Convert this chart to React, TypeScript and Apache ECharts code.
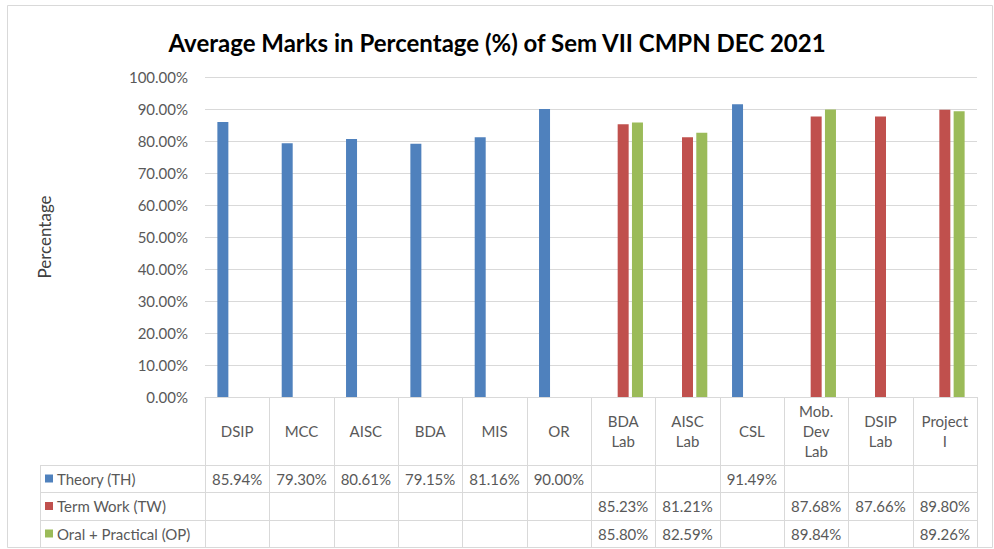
import React, { useEffect, useRef } from "react";
import * as echarts from "echarts";

const categories = ["DSIP", "MCC", "AISC", "BDA", "MIS", "OR", "BDA\nLab", "AISC\nLab", "CSL", "Mob.\nDev\nLab", "DSIP\nLab", "Project\nI"];
const seriesNames = ["Theory (TH)", "Term Work (TW)", "Oral + Practical (OP)"];
const theory = [85.94, 79.3, 80.61, 79.15, 81.16, 90.0, null, null, 91.49, null, null, null];
const termWork = [null, null, null, null, null, null, 85.23, 81.21, null, 87.68, 87.66, 89.8];
const oralPractical = [null, null, null, null, null, null, 85.8, 82.59, null, 89.84, null, 89.26];
const colors = ["#4f81bd", "#c0504d", "#9bbb59"];
const yTicks = [0, 10, 20, 30, 40, 50, 60, 70, 80, 90, 100];

const FONT = "Lato, 'Open Sans', sans-serif";
const TXT = "#595959";
const LINE = "#d9d9d9";

export default function App() {
  const ref = useRef<HTMLDivElement>(null);
  useEffect(() => {
    if (!ref.current) return;
    const chart = echarts.init(ref.current, null, { renderer: "svg" });
    const gridL = 205, gridR = 977, gridT = 77, gridB = 397;
    const colW = (gridR - gridL) / categories.length;
    const rowYs = [465, 492, 520, 547];
    const tableL = 40;
    const allSeries = [theory, termWork, oralPractical];

    const graphics: any[] = [];
    graphics.push({ type: "rect", shape: { x: 7.5, y: 5.5, width: 985, height: 542 }, style: { fill: "none", stroke: LINE, lineWidth: 1 }, silent: true });
    rowYs.forEach((y) => {
      graphics.push({ type: "line", shape: { x1: tableL, y1: y + 0.5, x2: gridR, y2: y + 0.5 }, style: { stroke: LINE, lineWidth: 1 } });
    });
    for (let i = 0; i <= categories.length; i++) {
      const x = Math.round(gridL + i * colW) + 0.5;
      graphics.push({ type: "line", shape: { x1: x, y1: gridB, x2: x, y2: rowYs[3] + 0.5 }, style: { stroke: LINE, lineWidth: 1 } });
    }
    graphics.push({ type: "line", shape: { x1: tableL + 0.5, y1: rowYs[0], x2: tableL + 0.5, y2: rowYs[3] + 0.5 }, style: { stroke: LINE, lineWidth: 1 } });
    seriesNames.forEach((name, r) => {
      const cy = (rowYs[r] + rowYs[r + 1]) / 2;
      graphics.push({ type: "rect", shape: { x: 45, y: cy - 4, width: 8, height: 8 }, style: { fill: colors[r] } });
      graphics.push({ type: "text", x: 57, y: cy, style: { text: name, font: `15px ${FONT}`, fill: TXT, align: "left", verticalAlign: "middle" } });
      allSeries[r].forEach((v, c) => {
        if (v == null) return;
        graphics.push({ type: "text", x: gridL + (c + 0.5) * colW, y: cy, style: { text: v.toFixed(2) + "%", font: `15px ${FONT}`, fill: TXT, align: "center", verticalAlign: "middle" } });
      });
    });

    chart.setOption({
      animation: false,
      title: {
        text: "Average Marks in Percentage (%) of Sem VII CMPN DEC 2021",
        left: "center",
        top: 25,
        textStyle: { fontFamily: FONT, fontSize: 24, fontWeight: "bold", color: "#000" },
      },
      grid: { left: gridL, right: 994 - gridR, top: gridT, bottom: 549 - gridB },
      xAxis: {
        type: "category",
        data: categories,
        axisLine: { show: true, lineStyle: { color: LINE } },
        axisTick: { show: false },
        axisLabel: { interval: 0, margin: 34, verticalAlign: "middle", lineHeight: 20, fontFamily: FONT, fontSize: 15, color: TXT },
      },
      yAxis: {
        type: "value",
        min: 0,
        max: 100,
        interval: 10,
        name: "Percentage",
        nameLocation: "middle",
        nameGap: 152,
        nameRotate: 90,
        nameTextStyle: { fontFamily: FONT, fontSize: 17, color: "#404040" },
        axisLine: { show: false },
        axisTick: { show: false },
        splitLine: { lineStyle: { color: LINE } },
        axisLabel: { margin: 17, fontFamily: FONT, fontSize: 15, color: TXT, formatter: (v: number) => (yTicks.includes(v) ? v.toFixed(2) + "%" : "") },
      },
      series: allSeries.map((d, i) => ({
        type: "bar",
        name: seriesNames[i],
        data: d,
        barWidth: 11,
        barGap: "30%",
        itemStyle: { color: colors[i] },
      })),
      graphic: graphics,
    });
    return () => chart.dispose();
  }, []);
  return <div ref={ref} style={{ position: "fixed", left: 0, top: 0, width: 994, height: 549, background: "#fff" }} />;
}
